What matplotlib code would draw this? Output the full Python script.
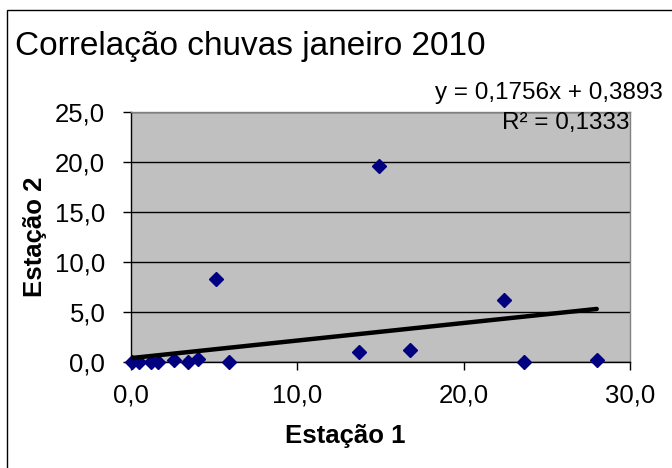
import matplotlib
matplotlib.use("Agg")
import matplotlib.pyplot as plt
from matplotlib.ticker import FuncFormatter, MultipleLocator
from matplotlib.patches import Rectangle

plt.rcParams['font.family'] = ['Liberation Sans', 'DejaVu Sans']

title = "Correlação chuvas janeiro 2010"
x_label = "Estação 1"
y_label = "Estação 2"

estacao1 = [0.05, 0.5, 1.2, 1.6, 2.6, 3.4, 4.0, 5.9, 5.1, 14.9, 13.7, 16.8, 22.4, 23.6, 28.0]
estacao2 = [0.0, 0.0, 0.0, 0.0, 0.2, 0.0, 0.3, 0.0, 8.3, 19.6, 1.0, 1.2, 6.2, 0.0, 0.2]

slope = 0.1756
intercept = 0.3893
r_squared = 0.1333

W, H = 672, 468
fig = plt.figure(figsize=(W / 100, H / 100), dpi=100)
fig.patch.set_facecolor('white')

# chart area border
fig.patches.append(Rectangle((7 / W, -0.1), 1.2, 1 - 10 / H + 0.1, transform=fig.transFigure,
                             fill=False, edgecolor='black', linewidth=1.0))

left, right, top, bottom = 131, 630, 112, 362
ax = fig.add_axes([left / W, 1 - bottom / H, (right - left) / W, (bottom - top) / H])
ax.set_facecolor('#C0C0C0')
ax.set_xlim(0, 30)
ax.set_ylim(0, 25)
ax.xaxis.set_major_locator(MultipleLocator(10))
ax.yaxis.set_major_locator(MultipleLocator(5))
fmt = FuncFormatter(lambda v, p: f"{v:.1f}".replace('.', ','))
ax.xaxis.set_major_formatter(fmt)
ax.yaxis.set_major_formatter(fmt)
ax.grid(axis='y', color='black', linewidth=1.0)
ax.set_axisbelow(True)
for s in ['top', 'right']:
    ax.spines[s].set_color('#808080')
    ax.spines[s].set_linewidth(1.0)
for s in ['left', 'bottom']:
    ax.spines[s].set_color('black')
    ax.spines[s].set_linewidth(1.0)
ax.tick_params(axis='both', direction='out', length=5.5, width=1, labelsize=18.5, color='black')
ax.tick_params(axis='y', pad=13)
ax.tick_params(axis='x', pad=10)

ax.plot(estacao1, estacao2, linestyle='none', marker='D', markersize=7,
        color='#000080', clip_on=False, zorder=3)

xmin, xmax = min(estacao1), max(estacao1)
ax.plot([xmin, xmax], [slope * xmin + intercept, slope * xmax + intercept],
        color='black', linewidth=3.2, solid_capstyle='round', zorder=4)

eq = f"y = {slope:.4f}x + {intercept:.4f}".replace('.', ',')
r2 = f"R² = {r_squared:.4f}".replace('.', ',')
fig.text(663 / W, 1 - 93 / H, eq, ha='right', va='center', fontsize=17.5)
fig.text(566 / W, 1 - 123 / H, r2, ha='center', va='center', fontsize=17.5)

ax.set_xlabel(x_label, fontsize=18.5, fontweight='bold')
ax.set_ylabel(y_label, fontsize=18.5, fontweight='bold')
ax.xaxis.set_label_coords((345 - left) / (right - left), -(436 - bottom) / (bottom - top))
ax.yaxis.set_label_coords((35 - left) / (right - left), 0.5)
ax.xaxis.label.set_va('center')
ax.yaxis.label.set_va('center')

fig.text(15 / W, 1 - 46 / H, title, ha='left', va='center', fontsize=24)

fig.savefig('out.png', dpi=100)
